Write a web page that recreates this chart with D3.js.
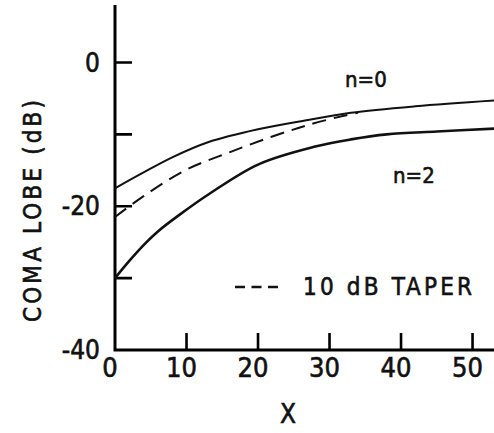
<!DOCTYPE html>
<html>
<head>
<meta charset="utf-8">
<script src="https://cdn.jsdelivr.net/npm/d3@7"></script>
<style>
  body { margin: 0; background: #fff; }
  svg text { font-family: "DejaVu Sans Condensed", "Liberation Sans", sans-serif; fill: #111; stroke: #111; stroke-width: 0.6px; }
</style>
</head>
<body>
<svg id="chart" width="494" height="433"></svg>
<script>
// values
var n0X = [0, 4, 8, 13, 20, 27, 33, 42, 53];
var n0Y = [-17.5, -15.3, -13.2, -11.1, -9.3, -8.0, -7.0, -6.1, -5.3];

var n2X = [0, 2, 4, 6, 9, 13, 20, 28, 33, 38, 45, 53];
var n2Y = [-30, -27.6, -25.4, -23.5, -21.2, -18.4, -14.2, -11.7, -10.7, -10.0, -9.6, -9.2];

var taperX = [0, 4, 10, 16, 22, 27, 32, 34];
var taperY = [-21.5, -18.6, -14.9, -12.5, -10.3, -8.7, -7.4, -7.0];

var xTicks = [0, 10, 20, 30, 40, 50];
var yTicks = [0, -20, -40];
var yMinorTicks = [0, -10, -20, -30];

var svg = d3.select("#chart");

var x = d3.scaleLinear().domain([0, 53]).range([115, 494]);
var y = d3.scaleLinear().domain([-40, 8]).range([350, 5]);

function pts(xs, ys) {
  return xs.map(function(d, i) { return [d, ys[i]]; });
}

var curve = d3.line()
  .x(function(d) { return x(d[0]); })
  .y(function(d) { return y(d[1]); })
  .curve(d3.curveCatmullRom.alpha(0.5));

// axes: thick lines
var axisPath = d3.path();
axisPath.moveTo(x(0), y(8));
axisPath.lineTo(x(0), y(-40));
axisPath.lineTo(x(53), y(-40));
svg.append("path")
  .attr("d", axisPath.toString())
  .attr("fill", "none")
  .attr("stroke", "#000")
  .attr("stroke-width", 3);

// ticks pointing inward
var tickPath = d3.path();
xTicks.slice(1).forEach(function(d) {
  tickPath.moveTo(x(d), y(-40));
  tickPath.lineTo(x(d), y(-40) - 17);
});
yMinorTicks.forEach(function(d) {
  tickPath.moveTo(x(0), y(d));
  tickPath.lineTo(x(0) + 17, y(d));
});
svg.append("path")
  .attr("d", tickPath.toString())
  .attr("fill", "none")
  .attr("stroke", "#000")
  .attr("stroke-width", 2.6);

// curves
svg.append("path")
  .attr("d", curve(pts(n0X, n0Y)))
  .attr("fill", "none").attr("stroke", "#111").attr("stroke-width", 2);
svg.append("path")
  .attr("d", curve(pts(n2X, n2Y)))
  .attr("fill", "none").attr("stroke", "#111").attr("stroke-width", 2.6);
svg.append("path")
  .attr("d", curve(pts(taperX, taperY)))
  .attr("fill", "none").attr("stroke", "#111").attr("stroke-width", 2)
  .attr("stroke-dasharray", "14,8");

// tick labels
svg.selectAll(".ylab")
  .data(yTicks)
  .enter().append("text")
  .attr("class", "ylab")
  .attr("x", 100)
  .attr("y", function(d) { return y(d) + 9; })
  .attr("text-anchor", "end")
  .attr("font-size", 26)
  .text(function(d) { return d; });

svg.selectAll(".xlab")
  .data(xTicks)
  .enter().append("text")
  .attr("class", "xlab")
  .attr("x", function(d) { return x(d) - 5; })
  .attr("y", 377)
  .attr("text-anchor", "middle")
  .attr("font-size", 27)
  .text(function(d) { return d; });

svg.append("text")
  .attr("x", 288).attr("y", 423)
  .attr("text-anchor", "middle")
  .attr("font-size", 26)
  .text("X");

svg.append("text")
  .attr("transform", "translate(41,211) rotate(-90)")
  .attr("text-anchor", "middle")
  .attr("font-size", 24)
  .attr("textLength", 222)
  .attr("lengthAdjust", "spacing")
  .text("COMA LOBE (dB)");

// annotations
svg.append("text").attr("x", 345).attr("y", 87).attr("font-size", 22).text("n=0");
svg.append("text").attr("x", 393).attr("y", 183).attr("font-size", 22).text("n=2");

svg.append("line")
  .attr("x1", 235).attr("x2", 278)
  .attr("y1", 287).attr("y2", 287)
  .attr("stroke", "#111").attr("stroke-width", 2.5)
  .attr("stroke-dasharray", "10,6.5");
svg.append("text")
  .attr("x", 303).attr("y", 295)
  .attr("font-size", 24)
  .attr("textLength", 169)
  .attr("lengthAdjust", "spacing")
  .text("10 dB TAPER");
</script>
</body>
</html>
